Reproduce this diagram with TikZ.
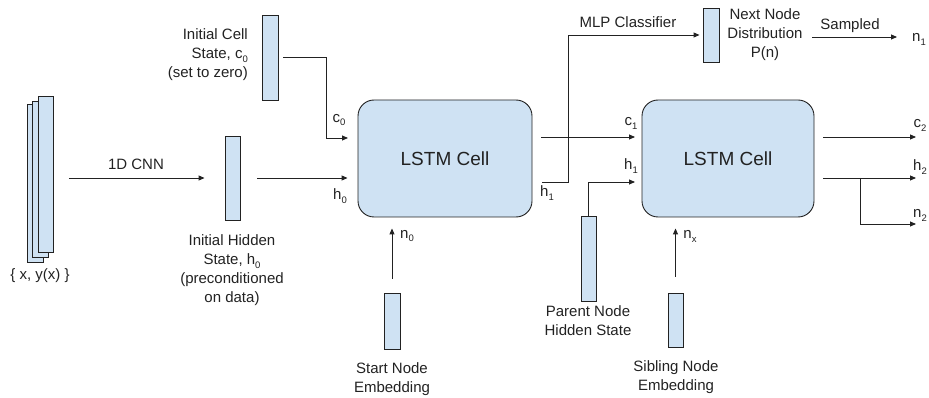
\documentclass[tikz,border=0pt]{standalone}
\usepackage{fontspec}
\setmainfont{Liberation Sans}
\usetikzlibrary{arrows.meta}
\definecolor{boxfill}{HTML}{CFE2F3}
\definecolor{ink}{HTML}{222222}
% lowered small index, as in c_0, h_1, n_x
\newcommand\lsub[1]{\raisebox{-0.5ex}{\fontsize{9.5}{10}\selectfont #1}}

\begin{document}
\begin{tikzpicture}[x=1pt,y=-1pt,
  bar/.style={draw=ink, fill=boxfill, line width=0.9pt, inner sep=0pt},
  cell/.style={draw=ink, fill=boxfill, line width=0.9pt, rounded corners=16pt,
    inner sep=0pt, text=ink, font=\fontsize{19}{23}\selectfont},
  lbl/.style={text=ink, inner sep=0pt, align=center, font=\fontsize{15}{19}\selectfont},
  wire/.style={draw=ink, line width=0.9pt},
  arr/.style={wire, -{Triangle[length=6pt,width=5pt]}},
]
\useasboundingbox (0,0) rectangle (929,398);

% input data stack
\node[bar, minimum width=16pt, minimum height=158pt] (back)  at (35,183) {};
\node[bar, minimum width=16pt, minimum height=156pt] (mid)   at (40,179) {};
\node[bar, minimum width=15pt, minimum height=156pt] (front) at (45.5,174) {};
\node[lbl] (xy) at (40,276) {\{ x, y(x) \}};

% state / embedding vectors
\node[bar, minimum width=15pt, minimum height=84pt] (h0bar) at (232.5,178) {};
\node[bar, minimum width=16pt, minimum height=85pt] (c0bar) at (270,57.5) {};
\node[bar, minimum width=16pt, minimum height=54pt] (pbar) at (711,35) {};
\node[bar, minimum width=15pt, minimum height=85pt] (parentbar) at (588.5,258.5) {};
\node[bar, minimum width=16pt, minimum height=56pt] (startbar) at (392,321) {};
\node[bar, minimum width=15pt, minimum height=54pt] (sibbar) at (675.5,320) {};

% LSTM cells
\node[cell, minimum width=174pt, minimum height=117pt] (cell1) at (445,158.5) {LSTM Cell};
\node[cell, minimum width=172pt, minimum height=117pt] (cell2) at (728,158.5) {LSTM Cell};

% ports
\coordinate (c0in)  at (358,138);
\coordinate (c1out) at (532,137);
\coordinate (h1out) at (532,182);
\coordinate (c1in)  at (642,137);
\coordinate (h1in)  at (642,182);
\coordinate (mlpup) at (568,35);
\coordinate (c2out) at (814,137);
\coordinate (h2out) at (814,178);
\coordinate (c2end) at (916,137);
\coordinate (h2end) at (916,178);
\coordinate (split) at (860,178);
\coordinate (n2end) at (916,224);
\coordinate (samp)  at (812,37);
\coordinate (n1end) at (897,37);

% connectors
\draw[arr, shorten <=15.5pt, shorten >=20pt] (front.east |- h0bar.west) -- (h0bar.west);
\draw[arr, shorten <=17pt, shorten >=10pt] (h0bar.east) -- (cell1.west |- h0bar.east);
\draw[arr, shorten <=5pt, shorten >=10pt] (c0bar.east) -- ++(48,0) |- (c0in);
\draw[arr, shorten <=9pt, shorten >=7pt] (c1out) -- (c1in);
\draw[arr, shorten <=10pt, shorten >=3pt] (h1out) -| (mlpup) -- (pbar.west);
\draw[arr, shorten >=7pt] (parentbar.north) |- (h1in);
\draw[arr] (samp) -- (n1end);
\draw[arr, shorten <=9pt] (c2out) -- (c2end);
\draw[arr, shorten <=9pt] (h2out) -- (h2end);
\draw[arr] (split) |- (n2end);
\draw[arr, shorten <=14pt, shorten >=11pt] (startbar.north) -- (startbar.north |- cell1.south);
\draw[arr, shorten <=16pt, shorten >=11pt] (sibbar.north) -- (sibbar.north |- cell2.south);

% labels
\node[lbl] at (136,164) {1D CNN};
\node[lbl, align=right, anchor=east] at (248,55) {Initial Cell\\State, c\lsub{0}\\(set to zero)};
\node[lbl] at (232,270) {Initial Hidden\\State, h\lsub{0}\\(preconditioned\\on data)};
\node[lbl] at (339,120) {c\lsub{0}};
\node[lbl] at (340,196) {h\lsub{0}};
\node[lbl] at (547,193) {h\lsub{1}};
\node[lbl] at (628,22) {MLP Classifier};
\node[lbl] (pdesc) at (765,35) {Next Node\\Distribution\\P(n)};
\node[lbl] at (850,26) {Sampled};
\node[lbl] at (919,39) {n\lsub{1}};
\node[lbl] at (631,123) {c\lsub{1}};
\node[lbl] at (631,166) {h\lsub{1}};
\node[lbl] at (920,125) {c\lsub{2}};
\node[lbl] at (920,167) {h\lsub{2}};
\node[lbl] at (920,215) {n\lsub{2}};
\node[lbl] at (407,236) {n\lsub{0}};
\node[lbl] at (690,236) {n\lsub{x}};
\node[lbl] at (392,379) {Start Node\\Embedding};
\node[lbl] at (588,321) {Parent Node\\Hidden State};
\node[lbl] at (676,377) {Sibling Node\\Embedding};
\end{tikzpicture}
\end{document}
